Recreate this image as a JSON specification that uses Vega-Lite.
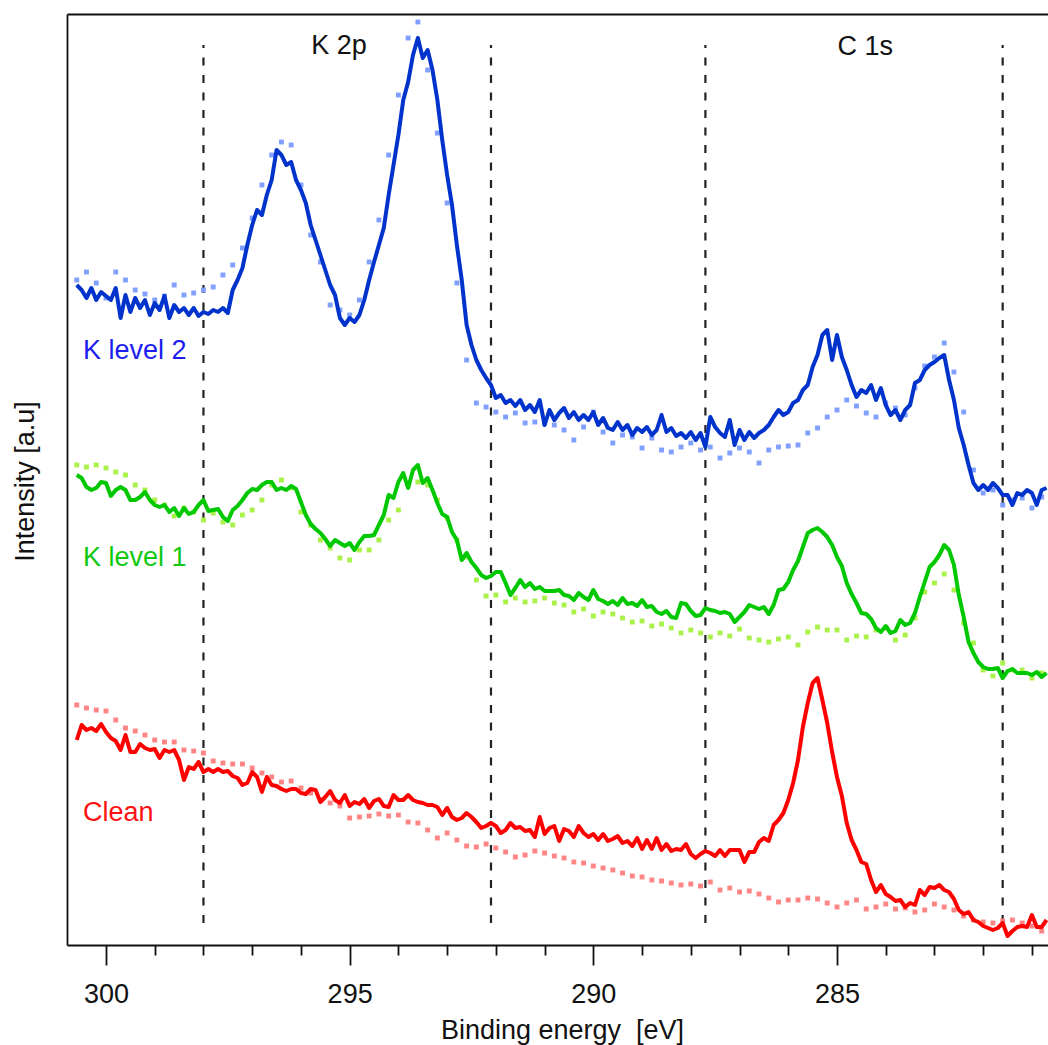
{
"$schema":"https://vega.github.io/schema/vega-lite/v6.json",
"autosize":{"type":"none"},
"padding":{"left":67,"top":14,"right":0,"bottom":100},
"width":981,"height":931,
"config":{"view":{"stroke":null},"font":"Liberation Sans",
"axis":{"grid":false,"domainColor":"#111","domainWidth":1.8,"tickColor":"#111","tickWidth":1.8,"labelFont":"Liberation Sans","labelFontSize":27,"labelColor":"#111","titleFont":"Liberation Sans","titleFontSize":27,"titleFontWeight":"normal","titleColor":"#111"},
"axisY":{"ticks":false,"labels":false,"domain":true,"titleAngle":270,"titleX":-34,"titleY":467,"titleAlign":"center","titleBaseline":"alphabetic"}},
"datasets":{
"marks":[{"e":298.0,"y0":77,"y1":955},{"e":292.1,"y0":77,"y1":955},{"e":287.7,"y0":77,"y1":955},{"e":281.6,"y0":77,"y1":955}],
"L2":[{"e":300.6,"v":715},{"e":300.5,"v":710},{"e":300.4,"v":702},{"e":300.3,"v":712},{"e":300.2,"v":700},{"e":300.1,"v":708},{"e":300.0,"v":704},{"e":299.9,"v":700},{"e":299.8,"v":712},{"e":299.7,"v":682},
{"e":299.6,"v":705},{"e":299.5,"v":688},{"e":299.4,"v":702},{"e":299.3,"v":692},{"e":299.2,"v":700},{"e":299.1,"v":685},{"e":299.0,"v":697},{"e":298.9,"v":690},{"e":298.8,"v":704},{"e":298.7,"v":682},
{"e":298.6,"v":695},{"e":298.5,"v":688},{"e":298.4,"v":692},{"e":298.3,"v":685},{"e":298.2,"v":692},{"e":298.1,"v":684},{"e":298.0,"v":688},{"e":297.9,"v":686},{"e":297.8,"v":690},{"e":297.7,"v":688},
{"e":297.6,"v":692},{"e":297.5,"v":687},{"e":297.4,"v":710},{"e":297.3,"v":720},{"e":297.2,"v":732},{"e":297.1,"v":755},{"e":297.0,"v":775},{"e":296.9,"v":790},{"e":296.8,"v":785},{"e":296.7,"v":805},
{"e":296.6,"v":820},{"e":296.5,"v":850},{"e":296.4,"v":845},{"e":296.3,"v":835},{"e":296.2,"v":838},{"e":296.1,"v":820},{"e":296.0,"v":810},{"e":295.9,"v":797},{"e":295.8,"v":775},{"e":295.7,"v":760},
{"e":295.6,"v":745},{"e":295.5,"v":730},{"e":295.4,"v":715},{"e":295.3,"v":705},{"e":295.2,"v":682},{"e":295.1,"v":675},{"e":295.0,"v":682},{"e":294.9,"v":678},{"e":294.8,"v":685},{"e":294.7,"v":700},
{"e":294.6,"v":720},{"e":294.5,"v":738},{"e":294.4,"v":755},{"e":294.3,"v":772},{"e":294.2,"v":805},{"e":294.1,"v":835},{"e":294.0,"v":865},{"e":293.9,"v":900},{"e":293.8,"v":918},{"e":293.7,"v":945},
{"e":293.6,"v":962},{"e":293.5,"v":942},{"e":293.4,"v":950},{"e":293.3,"v":930},{"e":293.2,"v":900},{"e":293.1,"v":860},{"e":293.0,"v":825},{"e":292.9,"v":795},{"e":292.8,"v":755},{"e":292.7,"v":720},
{"e":292.6,"v":675},{"e":292.5,"v":655},{"e":292.4,"v":640},{"e":292.3,"v":630},{"e":292.2,"v":622},{"e":292.1,"v":615},{"e":292.0,"v":602},{"e":291.9,"v":605},{"e":291.8,"v":597},{"e":291.7,"v":600},
{"e":291.6,"v":594},{"e":291.5,"v":600},{"e":291.4,"v":590},{"e":291.3,"v":595},{"e":291.2,"v":588},{"e":291.1,"v":600},{"e":291.0,"v":575},{"e":290.9,"v":590},{"e":290.8,"v":580},{"e":290.7,"v":587},
{"e":290.6,"v":592},{"e":290.5,"v":582},{"e":290.4,"v":588},{"e":290.3,"v":580},{"e":290.2,"v":585},{"e":290.1,"v":580},{"e":290.0,"v":588},{"e":289.9,"v":575},{"e":289.8,"v":582},{"e":289.7,"v":572},
{"e":289.6,"v":570},{"e":289.5,"v":578},{"e":289.4,"v":570},{"e":289.3,"v":575},{"e":289.2,"v":565},{"e":289.1,"v":572},{"e":289.0,"v":568},{"e":288.9,"v":573},{"e":288.8,"v":565},{"e":288.7,"v":570},
{"e":288.6,"v":585},{"e":288.5,"v":568},{"e":288.4,"v":572},{"e":288.3,"v":564},{"e":288.2,"v":567},{"e":288.1,"v":562},{"e":288.0,"v":568},{"e":287.9,"v":560},{"e":287.8,"v":567},{"e":287.7,"v":553},
{"e":287.6,"v":583},{"e":287.5,"v":573},{"e":287.4,"v":567},{"e":287.3,"v":563},{"e":287.2,"v":580},{"e":287.1,"v":555},{"e":287.0,"v":570},{"e":286.9,"v":560},{"e":286.8,"v":568},{"e":286.7,"v":562},
{"e":286.6,"v":567},{"e":286.5,"v":570},{"e":286.4,"v":575},{"e":286.3,"v":583},{"e":286.2,"v":590},{"e":286.1,"v":585},{"e":286.0,"v":588},{"e":285.9,"v":597},{"e":285.8,"v":600},{"e":285.7,"v":610},
{"e":285.6,"v":615},{"e":285.5,"v":633},{"e":285.4,"v":645},{"e":285.3,"v":665},{"e":285.2,"v":670},{"e":285.1,"v":640},{"e":285.0,"v":665},{"e":284.9,"v":643},{"e":284.8,"v":630},{"e":284.7,"v":615},
{"e":284.6,"v":603},{"e":284.5,"v":610},{"e":284.4,"v":607},{"e":284.3,"v":615},{"e":284.2,"v":600},{"e":284.1,"v":612},{"e":284.0,"v":595},{"e":283.9,"v":585},{"e":283.8,"v":590},{"e":283.7,"v":580},
{"e":283.6,"v":590},{"e":283.5,"v":595},{"e":283.4,"v":617},{"e":283.3,"v":620},{"e":283.2,"v":630},{"e":283.1,"v":635},{"e":283.0,"v":638},{"e":282.9,"v":642},{"e":282.8,"v":645},{"e":282.7,"v":620},
{"e":282.6,"v":600},{"e":282.5,"v":572},{"e":282.4,"v":555},{"e":282.3,"v":535},{"e":282.2,"v":517},{"e":282.1,"v":510},{"e":282.0,"v":515},{"e":281.9,"v":510},{"e":281.8,"v":517},{"e":281.7,"v":512},
{"e":281.6,"v":505},{"e":281.5,"v":505},{"e":281.4,"v":495},{"e":281.3,"v":507},{"e":281.2,"v":505},{"e":281.1,"v":510},{"e":281.0,"v":507},{"e":280.9,"v":495},{"e":280.8,"v":510},{"e":280.7,"v":512}],
"L1":[{"e":300.6,"v":525},{"e":300.5,"v":522},{"e":300.4,"v":513},{"e":300.3,"v":510},{"e":300.2,"v":512},{"e":300.1,"v":518},{"e":300.0,"v":517},{"e":299.9,"v":504},{"e":299.8,"v":510},{"e":299.7,"v":513},
{"e":299.6,"v":510},{"e":299.5,"v":500},{"e":299.4,"v":500},{"e":299.3,"v":503},{"e":299.2,"v":508},{"e":299.1,"v":500},{"e":299.0,"v":495},{"e":298.9,"v":493},{"e":298.8,"v":495},{"e":298.7,"v":488},
{"e":298.6,"v":492},{"e":298.5,"v":484},{"e":298.4,"v":492},{"e":298.3,"v":486},{"e":298.2,"v":488},{"e":298.1,"v":495},{"e":298.0,"v":500},{"e":297.9,"v":489},{"e":297.8,"v":490},{"e":297.7,"v":491},
{"e":297.6,"v":483},{"e":297.5,"v":479},{"e":297.4,"v":490},{"e":297.3,"v":494},{"e":297.2,"v":500},{"e":297.1,"v":507},{"e":297.0,"v":511},{"e":296.9,"v":510},{"e":296.8,"v":515},{"e":296.7,"v":518},
{"e":296.6,"v":518},{"e":296.5,"v":510},{"e":296.4,"v":512},{"e":296.3,"v":510},{"e":296.2,"v":514},{"e":296.1,"v":511},{"e":296.0,"v":498},{"e":295.9,"v":485},{"e":295.8,"v":476},{"e":295.7,"v":471},
{"e":295.6,"v":467},{"e":295.5,"v":461},{"e":295.4,"v":454},{"e":295.3,"v":460},{"e":295.2,"v":457},{"e":295.1,"v":454},{"e":295.0,"v":457},{"e":294.9,"v":450},{"e":294.8,"v":458},{"e":294.7,"v":464},
{"e":294.6,"v":464},{"e":294.5,"v":465},{"e":294.4,"v":475},{"e":294.3,"v":485},{"e":294.2,"v":505},{"e":294.1,"v":502},{"e":294.0,"v":518},{"e":293.9,"v":527},{"e":293.8,"v":512},{"e":293.7,"v":530},
{"e":293.6,"v":535},{"e":293.5,"v":517},{"e":293.4,"v":522},{"e":293.3,"v":510},{"e":293.2,"v":497},{"e":293.1,"v":486},{"e":293.0,"v":483},{"e":292.9,"v":468},{"e":292.8,"v":460},{"e":292.7,"v":440},
{"e":292.6,"v":447},{"e":292.5,"v":438},{"e":292.4,"v":432},{"e":292.3,"v":425},{"e":292.2,"v":422},{"e":292.1,"v":424},{"e":292.0,"v":428},{"e":291.9,"v":428},{"e":291.8,"v":417},{"e":291.7,"v":405},
{"e":291.6,"v":412},{"e":291.5,"v":420},{"e":291.4,"v":413},{"e":291.3,"v":417},{"e":291.2,"v":411},{"e":291.1,"v":413},{"e":291.0,"v":409},{"e":290.9,"v":409},{"e":290.8,"v":409},{"e":290.7,"v":410},
{"e":290.6,"v":405},{"e":290.5,"v":404},{"e":290.4,"v":400},{"e":290.3,"v":407},{"e":290.2,"v":403},{"e":290.1,"v":400},{"e":290.0,"v":410},{"e":289.9,"v":401},{"e":289.8,"v":399},{"e":289.7,"v":396},
{"e":289.6,"v":399},{"e":289.5,"v":395},{"e":289.4,"v":402},{"e":289.3,"v":396},{"e":289.2,"v":397},{"e":289.1,"v":394},{"e":289.0,"v":400},{"e":288.9,"v":393},{"e":288.8,"v":394},{"e":288.7,"v":388},
{"e":288.6,"v":386},{"e":288.5,"v":389},{"e":288.4,"v":383},{"e":288.3,"v":382},{"e":288.2,"v":397},{"e":288.1,"v":396},{"e":288.0,"v":389},{"e":287.9,"v":384},{"e":287.8,"v":385},{"e":287.7,"v":392},
{"e":287.6,"v":390},{"e":287.5,"v":389},{"e":287.4,"v":387},{"e":287.3,"v":388},{"e":287.2,"v":386},{"e":287.1,"v":378},{"e":287.0,"v":383},{"e":286.9,"v":388},{"e":286.8,"v":395},{"e":286.7,"v":393},
{"e":286.6,"v":391},{"e":286.5,"v":393},{"e":286.4,"v":386},{"e":286.3,"v":395},{"e":286.2,"v":410},{"e":286.1,"v":411},{"e":286.0,"v":418},{"e":285.9,"v":430},{"e":285.8,"v":439},{"e":285.7,"v":453},
{"e":285.6,"v":467},{"e":285.5,"v":470},{"e":285.4,"v":472},{"e":285.3,"v":468},{"e":285.2,"v":463},{"e":285.1,"v":455},{"e":285.0,"v":443},{"e":284.9,"v":434},{"e":284.8,"v":417},{"e":284.7,"v":406},
{"e":284.6,"v":397},{"e":284.5,"v":387},{"e":284.4,"v":386},{"e":284.3,"v":381},{"e":284.2,"v":372},{"e":284.1,"v":368},{"e":284.0,"v":374},{"e":283.9,"v":367},{"e":283.8,"v":369},{"e":283.7,"v":380},
{"e":283.6,"v":375},{"e":283.5,"v":377},{"e":283.4,"v":387},{"e":283.3,"v":403},{"e":283.2,"v":418},{"e":283.1,"v":433},{"e":283.0,"v":438},{"e":282.9,"v":445},{"e":282.8,"v":455},{"e":282.7,"v":450},
{"e":282.6,"v":435},{"e":282.5,"v":405},{"e":282.4,"v":383},{"e":282.3,"v":358},{"e":282.2,"v":347},{"e":282.1,"v":338},{"e":282.0,"v":333},{"e":281.9,"v":331},{"e":281.8,"v":331},{"e":281.7,"v":332},
{"e":281.6,"v":322},{"e":281.5,"v":329},{"e":281.4,"v":331},{"e":281.3,"v":327},{"e":281.2,"v":327},{"e":281.1,"v":327},{"e":281.0,"v":325},{"e":280.9,"v":328},{"e":280.8,"v":323},{"e":280.7,"v":327}],
"L0":[{"e":300.6,"v":260},{"e":300.5,"v":275},{"e":300.4,"v":270},{"e":300.3,"v":272},{"e":300.2,"v":269},{"e":300.1,"v":276},{"e":300.0,"v":268},{"e":299.9,"v":262},{"e":299.8,"v":259},{"e":299.7,"v":250},
{"e":299.6,"v":265},{"e":299.5,"v":248},{"e":299.4,"v":248},{"e":299.3,"v":256},{"e":299.2,"v":252},{"e":299.1,"v":250},{"e":299.0,"v":251},{"e":298.9,"v":242},{"e":298.8,"v":250},{"e":298.7,"v":248},
{"e":298.6,"v":250},{"e":298.5,"v":240},{"e":298.4,"v":220},{"e":298.3,"v":233},{"e":298.2,"v":231},{"e":298.1,"v":238},{"e":298.0,"v":228},{"e":297.9,"v":231},{"e":297.8,"v":228},{"e":297.7,"v":231},
{"e":297.6,"v":228},{"e":297.5,"v":229},{"e":297.4,"v":224},{"e":297.3,"v":222},{"e":297.2,"v":215},{"e":297.1,"v":217},{"e":297.0,"v":228},{"e":296.9,"v":223},{"e":296.8,"v":208},{"e":296.7,"v":223},
{"e":296.6,"v":215},{"e":296.5,"v":214},{"e":296.4,"v":211},{"e":296.3,"v":209},{"e":296.2,"v":211},{"e":296.1,"v":211},{"e":296.0,"v":207},{"e":295.9,"v":206},{"e":295.8,"v":211},{"e":295.7,"v":210},
{"e":295.6,"v":198},{"e":295.5,"v":203},{"e":295.4,"v":209},{"e":295.3,"v":200},{"e":295.2,"v":197},{"e":295.1,"v":205},{"e":295.0,"v":194},{"e":294.9,"v":198},{"e":294.8,"v":196},{"e":294.7,"v":201},
{"e":294.6,"v":192},{"e":294.5,"v":199},{"e":294.4,"v":201},{"e":294.3,"v":194},{"e":294.2,"v":193},{"e":294.1,"v":205},{"e":294.0,"v":200},{"e":293.9,"v":200},{"e":293.8,"v":205},{"e":293.7,"v":200},
{"e":293.6,"v":198},{"e":293.5,"v":197},{"e":293.4,"v":195},{"e":293.3,"v":195},{"e":293.2,"v":193},{"e":293.1,"v":185},{"e":293.0,"v":192},{"e":292.9,"v":183},{"e":292.8,"v":180},{"e":292.7,"v":182},
{"e":292.6,"v":187},{"e":292.5,"v":183},{"e":292.4,"v":178},{"e":292.3,"v":172},{"e":292.2,"v":174},{"e":292.1,"v":177},{"e":292.0,"v":174},{"e":291.9,"v":167},{"e":291.8,"v":170},{"e":291.7,"v":177},
{"e":291.6,"v":172},{"e":291.5,"v":173},{"e":291.4,"v":169},{"e":291.3,"v":170},{"e":291.2,"v":163},{"e":291.1,"v":183},{"e":291.0,"v":166},{"e":290.9,"v":172},{"e":290.8,"v":174},{"e":290.7,"v":159},
{"e":290.6,"v":171},{"e":290.5,"v":169},{"e":290.4,"v":163},{"e":290.3,"v":174},{"e":290.2,"v":167},{"e":290.1,"v":163},{"e":290.0,"v":166},{"e":289.9,"v":160},{"e":289.8,"v":166},{"e":289.7,"v":159},
{"e":289.6,"v":161},{"e":289.5,"v":164},{"e":289.4,"v":157},{"e":289.3,"v":159},{"e":289.2,"v":154},{"e":289.1,"v":162},{"e":289.0,"v":151},{"e":288.9,"v":160},{"e":288.8,"v":151},{"e":288.7,"v":162},
{"e":288.6,"v":150},{"e":288.5,"v":156},{"e":288.4,"v":149},{"e":288.3,"v":151},{"e":288.2,"v":150},{"e":288.1,"v":156},{"e":288.0,"v":146},{"e":287.9,"v":142},{"e":287.8,"v":146},{"e":287.7,"v":149},
{"e":287.6,"v":147},{"e":287.5,"v":144},{"e":287.4,"v":150},{"e":287.3,"v":144},{"e":287.2,"v":150},{"e":287.1,"v":150},{"e":287.0,"v":150},{"e":286.9,"v":138},{"e":286.8,"v":148},{"e":286.7,"v":148},
{"e":286.6,"v":158},{"e":286.5,"v":162},{"e":286.4,"v":159},{"e":286.3,"v":175},{"e":286.2,"v":180},{"e":286.1,"v":187},{"e":286.0,"v":200},{"e":285.9,"v":217},{"e":285.8,"v":240},{"e":285.7,"v":273},
{"e":285.6,"v":297},{"e":285.5,"v":317},{"e":285.4,"v":322},{"e":285.3,"v":300},{"e":285.2,"v":277},{"e":285.1,"v":248},{"e":285.0,"v":223},{"e":284.9,"v":204},{"e":284.8,"v":177},{"e":284.7,"v":160},
{"e":284.6,"v":150},{"e":284.5,"v":138},{"e":284.4,"v":136},{"e":284.3,"v":120},{"e":284.2,"v":108},{"e":284.1,"v":115},{"e":284.0,"v":106},{"e":283.9,"v":103},{"e":283.8,"v":99},{"e":283.7,"v":100},
{"e":283.6,"v":93},{"e":283.5,"v":97},{"e":283.4,"v":95},{"e":283.3,"v":110},{"e":283.2,"v":105},{"e":283.1,"v":113},{"e":283.0,"v":112},{"e":282.9,"v":115},{"e":282.8,"v":110},{"e":282.7,"v":108},
{"e":282.6,"v":101},{"e":282.5,"v":90},{"e":282.4,"v":86},{"e":282.3,"v":88},{"e":282.2,"v":80},{"e":282.1,"v":78},{"e":282.0,"v":74},{"e":281.9,"v":72},{"e":281.8,"v":70},{"e":281.7,"v":72},
{"e":281.6,"v":77},{"e":281.5,"v":64},{"e":281.4,"v":69},{"e":281.3,"v":73},{"e":281.2,"v":74},{"e":281.1,"v":73},{"e":281.0,"v":85},{"e":280.9,"v":73},{"e":280.8,"v":73},{"e":280.7,"v":80}],
"D2":[{"e":300.6,"v":720},{"e":300.4,"v":728},{"e":300.2,"v":717},{"e":300.0,"v":702},{"e":299.8,"v":728},{"e":299.6,"v":720},{"e":299.4,"v":710},{"e":299.2,"v":706},{"e":299.0,"v":700},{"e":298.8,"v":704},
{"e":298.6,"v":715},{"e":298.4,"v":705},{"e":298.2,"v":707},{"e":298.0,"v":710},{"e":297.8,"v":713},{"e":297.6,"v":725},{"e":297.4,"v":735},{"e":297.2,"v":752},{"e":297.0,"v":782},{"e":296.8,"v":815},
{"e":296.6,"v":845},{"e":296.4,"v":858},{"e":296.2,"v":855},{"e":296.0,"v":815},{"e":295.8,"v":765},{"e":295.6,"v":738},{"e":295.4,"v":695},{"e":295.2,"v":690},{"e":295.0,"v":685},{"e":294.8,"v":700},
{"e":294.6,"v":738},{"e":294.4,"v":780},{"e":294.2,"v":845},{"e":294.0,"v":905},{"e":293.8,"v":962},{"e":293.6,"v":978},{"e":293.4,"v":930},{"e":293.2,"v":867},{"e":293.0,"v":797},{"e":292.8,"v":717},
{"e":292.6,"v":640},{"e":292.4,"v":597},{"e":292.2,"v":593},{"e":292.0,"v":588},{"e":291.8,"v":583},{"e":291.6,"v":587},{"e":291.4,"v":577},{"e":291.2,"v":578},{"e":291.0,"v":577},{"e":290.8,"v":575},
{"e":290.6,"v":570},{"e":290.4,"v":560},{"e":290.2,"v":573},{"e":290.0,"v":588},{"e":289.8,"v":568},{"e":289.6,"v":557},{"e":289.4,"v":565},{"e":289.2,"v":563},{"e":289.0,"v":552},{"e":288.8,"v":562},
{"e":288.6,"v":550},{"e":288.4,"v":548},{"e":288.2,"v":553},{"e":288.0,"v":557},{"e":287.8,"v":550},{"e":287.6,"v":553},{"e":287.4,"v":542},{"e":287.2,"v":547},{"e":287.0,"v":552},{"e":286.8,"v":548},
{"e":286.6,"v":537},{"e":286.4,"v":550},{"e":286.2,"v":553},{"e":286.0,"v":554},{"e":285.8,"v":555},{"e":285.6,"v":567},{"e":285.4,"v":572},{"e":285.2,"v":583},{"e":285.0,"v":590},{"e":284.8,"v":600},
{"e":284.6,"v":594},{"e":284.4,"v":587},{"e":284.2,"v":583},{"e":284.0,"v":597},{"e":283.8,"v":592},{"e":283.6,"v":585},{"e":283.4,"v":612},{"e":283.2,"v":634},{"e":283.0,"v":643},{"e":282.8,"v":657},
{"e":282.6,"v":628},{"e":282.4,"v":588},{"e":282.2,"v":530},{"e":282.0,"v":507},{"e":281.8,"v":510},{"e":281.6,"v":495},{"e":281.4,"v":500},{"e":281.2,"v":502},{"e":281.0,"v":492},{"e":280.8,"v":503}],
"D1":[{"e":300.6,"v":535},{"e":300.4,"v":533},{"e":300.2,"v":535},{"e":300.0,"v":532},{"e":299.8,"v":528},{"e":299.6,"v":525},{"e":299.4,"v":515},{"e":299.2,"v":510},{"e":299.0,"v":500},{"e":298.8,"v":495},
{"e":298.6,"v":484},{"e":298.4,"v":492},{"e":298.2,"v":488},{"e":298.0,"v":480},{"e":297.8,"v":487},{"e":297.6,"v":478},{"e":297.4,"v":475},{"e":297.2,"v":485},{"e":297.0,"v":490},{"e":296.8,"v":500},
{"e":296.6,"v":515},{"e":296.4,"v":520},{"e":296.2,"v":512},{"e":296.0,"v":488},{"e":295.8,"v":475},{"e":295.6,"v":460},{"e":295.4,"v":452},{"e":295.2,"v":442},{"e":295.0,"v":440},{"e":294.8,"v":450},
{"e":294.6,"v":450},{"e":294.4,"v":460},{"e":294.2,"v":480},{"e":294.0,"v":490},{"e":293.8,"v":515},{"e":293.6,"v":518},{"e":293.4,"v":515},{"e":293.2,"v":500},{"e":293.0,"v":482},{"e":292.8,"v":460},
{"e":292.6,"v":443},{"e":292.4,"v":420},{"e":292.2,"v":404},{"e":292.0,"v":405},{"e":291.8,"v":398},{"e":291.6,"v":402},{"e":291.4,"v":398},{"e":291.2,"v":399},{"e":291.0,"v":402},{"e":290.8,"v":397},
{"e":290.6,"v":395},{"e":290.4,"v":388},{"e":290.2,"v":391},{"e":290.0,"v":384},{"e":289.8,"v":388},{"e":289.6,"v":386},{"e":289.4,"v":382},{"e":289.2,"v":378},{"e":289.0,"v":379},{"e":288.8,"v":374},
{"e":288.6,"v":376},{"e":288.4,"v":372},{"e":288.2,"v":367},{"e":288.0,"v":370},{"e":287.8,"v":367},{"e":287.6,"v":363},{"e":287.4,"v":367},{"e":287.2,"v":364},{"e":287.0,"v":371},{"e":286.8,"v":362},
{"e":286.6,"v":360},{"e":286.4,"v":358},{"e":286.2,"v":361},{"e":286.0,"v":363},{"e":285.8,"v":355},{"e":285.6,"v":368},{"e":285.4,"v":373},{"e":285.2,"v":370},{"e":285.0,"v":370},{"e":284.8,"v":360},
{"e":284.6,"v":364},{"e":284.4,"v":363},{"e":284.2,"v":370},{"e":284.0,"v":372},{"e":283.8,"v":360},{"e":283.6,"v":365},{"e":283.4,"v":382},{"e":283.2,"v":408},{"e":283.0,"v":417},{"e":282.8,"v":426},
{"e":282.6,"v":410},{"e":282.4,"v":377},{"e":282.2,"v":357},{"e":282.0,"v":330},{"e":281.8,"v":324},{"e":281.6,"v":337},{"e":281.4,"v":330},{"e":281.2,"v":330},{"e":281.0,"v":322},{"e":280.8,"v":327}],
"D0":[{"e":300.6,"v":295},{"e":300.4,"v":292},{"e":300.2,"v":290},{"e":300.0,"v":289},{"e":299.8,"v":280},{"e":299.6,"v":272},{"e":299.4,"v":269},{"e":299.2,"v":265},{"e":299.0,"v":260},{"e":298.8,"v":258},
{"e":298.6,"v":258},{"e":298.4,"v":250},{"e":298.2,"v":249},{"e":298.0,"v":247},{"e":297.8,"v":239},{"e":297.6,"v":237},{"e":297.4,"v":236},{"e":297.2,"v":236},{"e":297.0,"v":232},{"e":296.8,"v":227},
{"e":296.6,"v":223},{"e":296.4,"v":218},{"e":296.2,"v":219},{"e":296.0,"v":212},{"e":295.8,"v":207},{"e":295.6,"v":200},{"e":295.4,"v":197},{"e":295.2,"v":194},{"e":295.0,"v":182},{"e":294.8,"v":183},
{"e":294.6,"v":184},{"e":294.4,"v":186},{"e":294.2,"v":184},{"e":294.0,"v":185},{"e":293.8,"v":178},{"e":293.6,"v":177},{"e":293.4,"v":170},{"e":293.2,"v":162},{"e":293.0,"v":167},{"e":292.8,"v":160},
{"e":292.6,"v":154},{"e":292.4,"v":153},{"e":292.2,"v":156},{"e":292.0,"v":152},{"e":291.8,"v":148},{"e":291.6,"v":143},{"e":291.4,"v":145},{"e":291.2,"v":149},{"e":291.0,"v":147},{"e":290.8,"v":144},
{"e":290.6,"v":142},{"e":290.4,"v":138},{"e":290.2,"v":137},{"e":290.0,"v":134},{"e":289.8,"v":132},{"e":289.6,"v":130},{"e":289.4,"v":127},{"e":289.2,"v":124},{"e":289.0,"v":123},{"e":288.8,"v":120},
{"e":288.6,"v":119},{"e":288.4,"v":117},{"e":288.2,"v":115},{"e":288.0,"v":116},{"e":287.8,"v":114},{"e":287.6,"v":118},{"e":287.4,"v":110},{"e":287.2,"v":112},{"e":287.0,"v":108},{"e":286.8,"v":109},
{"e":286.6,"v":106},{"e":286.4,"v":102},{"e":286.2,"v":98},{"e":286.0,"v":100},{"e":285.8,"v":100},{"e":285.6,"v":102},{"e":285.4,"v":101},{"e":285.2,"v":97},{"e":285.0,"v":93},{"e":284.8,"v":97},
{"e":284.6,"v":100},{"e":284.4,"v":91},{"e":284.2,"v":93},{"e":284.0,"v":96},{"e":283.8,"v":91},{"e":283.6,"v":92},{"e":283.4,"v":88},{"e":283.2,"v":90},{"e":283.0,"v":96},{"e":282.8,"v":93},
{"e":282.6,"v":90},{"e":282.4,"v":84},{"e":282.2,"v":80},{"e":282.0,"v":78},{"e":281.8,"v":77},{"e":281.6,"v":79},{"e":281.4,"v":80},{"e":281.2,"v":77},{"e":281.0,"v":74},{"e":280.8,"v":69}]
},
"layer":[
{"data":{"name":"marks"},"mark":{"type":"rule","color":"#222","strokeWidth":2.2,"strokeDash":[8,9.5]},
 "encoding":{"x":{"field":"e","type":"quantitative","scale":{"domain":[280.67,300.8],"reverse":true,"nice":false,"zero":false},"axis":{"orient":"top","ticks":false,"labels":false,"title":null,"domain":true}},
 "y":{"field":"y0","type":"quantitative","scale":{"domain":[55,986],"nice":false,"zero":false},"title":"Intensity [a.u]"},"y2":{"field":"y1"}}},
{"data":{"name":"D2"},"mark":{"type":"square","size":24,"color":"#80a0ff","opacity":1},
 "encoding":{"x":{"field":"e","type":"quantitative","scale":{"domain":[280.67,300.8],"reverse":true,"nice":false,"zero":false},"axis":null},
 "y":{"field":"v","type":"quantitative","scale":{"domain":[55,986],"nice":false,"zero":false},"title":"Intensity [a.u]"}}},
{"data":{"name":"D1"},"mark":{"type":"square","size":24,"color":"#a8f24a","opacity":1},
 "encoding":{"x":{"field":"e","type":"quantitative","scale":{"domain":[280.67,300.8],"reverse":true,"nice":false,"zero":false},"axis":null},
 "y":{"field":"v","type":"quantitative","scale":{"domain":[55,986],"nice":false,"zero":false},"title":"Intensity [a.u]"}}},
{"data":{"name":"D0"},"mark":{"type":"square","size":24,"color":"#ff8585","opacity":1},
 "encoding":{"x":{"field":"e","type":"quantitative","scale":{"domain":[280.67,300.8],"reverse":true,"nice":false,"zero":false},"axis":null},
 "y":{"field":"v","type":"quantitative","scale":{"domain":[55,986],"nice":false,"zero":false},"title":"Intensity [a.u]"}}},
{"data":{"name":"L2"},"mark":{"type":"line","color":"#0033cc","strokeWidth":4,"strokeJoin":"round","clip":true},
 "encoding":{"x":{"field":"e","type":"quantitative","scale":{"domain":[280.67,300.8],"reverse":true,"nice":false,"zero":false},"axis":null},
 "y":{"field":"v","type":"quantitative","scale":{"domain":[55,986],"nice":false,"zero":false},"title":"Intensity [a.u]"}}},
{"data":{"name":"L1"},"mark":{"type":"line","color":"#00c800","strokeWidth":4,"strokeJoin":"round","clip":true},
 "encoding":{"x":{"field":"e","type":"quantitative","scale":{"domain":[280.67,300.8],"reverse":true,"nice":false,"zero":false},"axis":null},
 "y":{"field":"v","type":"quantitative","scale":{"domain":[55,986],"nice":false,"zero":false},"title":"Intensity [a.u]"}}},
{"data":{"name":"L0"},"mark":{"type":"line","color":"#ff0000","strokeWidth":4,"strokeJoin":"round","clip":true},
 "encoding":{"x":{"field":"e","type":"quantitative","scale":{"domain":[280.67,300.8],"reverse":true,"nice":false,"zero":false},
  "axis":{"orient":"bottom","values":[281,282,283,284,285,286,287,288,289,290,291,292,293,294,295,296,297,298,299,300],"tickSize":{"condition":{"test":"datum.value % 5 === 0","value":20},"value":10},"labelExpr":"datum.value % 5 === 0 ? datum.label : ''","labelPadding":16,"labelFlush":false,"labelOverlap":false,"domain":true,"title":"Binding energy \u00a0[eV]","titleX":495,"titleY":93,"titleAlign":"center","titleBaseline":"alphabetic"}},
 "y":{"field":"v","type":"quantitative","scale":{"domain":[55,986],"nice":false,"zero":false},"title":"Intensity [a.u]"}}},
{"data":{"values":[{"e":295.22,"v":954,"t":"K 2p"},{"e":284.42,"v":953,"t":"C 1s"}]},"mark":{"type":"text","fontSize":27,"color":"#111","align":"center","baseline":"middle"},
 "encoding":{"x":{"field":"e","type":"quantitative","scale":{"domain":[280.67,300.8],"reverse":true,"nice":false,"zero":false},"axis":null},
 "y":{"field":"v","type":"quantitative","scale":{"domain":[55,986],"nice":false,"zero":false},"title":"Intensity [a.u]"},"text":{"field":"t"}}},
{"data":{"values":[{"e":300.47,"v":649,"t":"K level 2"}]},"mark":{"type":"text","fontSize":27,"color":"#1c1cf0","align":"left","baseline":"middle"},
 "encoding":{"x":{"field":"e","type":"quantitative","scale":{"domain":[280.67,300.8],"reverse":true,"nice":false,"zero":false},"axis":null},
 "y":{"field":"v","type":"quantitative","scale":{"domain":[55,986],"nice":false,"zero":false},"title":"Intensity [a.u]"},"text":{"field":"t"}}},
{"data":{"values":[{"e":300.47,"v":442,"t":"K level 1"}]},"mark":{"type":"text","fontSize":27,"color":"#10c810","align":"left","baseline":"middle"},
 "encoding":{"x":{"field":"e","type":"quantitative","scale":{"domain":[280.67,300.8],"reverse":true,"nice":false,"zero":false},"axis":null},
 "y":{"field":"v","type":"quantitative","scale":{"domain":[55,986],"nice":false,"zero":false},"title":"Intensity [a.u]"},"text":{"field":"t"}}},
{"data":{"values":[{"e":300.47,"v":187,"t":"Clean"}]},"mark":{"type":"text","fontSize":27,"color":"#ff1010","align":"left","baseline":"middle"},
 "encoding":{"x":{"field":"e","type":"quantitative","scale":{"domain":[280.67,300.8],"reverse":true,"nice":false,"zero":false},"axis":null},
 "y":{"field":"v","type":"quantitative","scale":{"domain":[55,986],"nice":false,"zero":false},"title":"Intensity [a.u]"},"text":{"field":"t"}}}
],
"resolve":{"axis":{"x":"independent"}}
}
